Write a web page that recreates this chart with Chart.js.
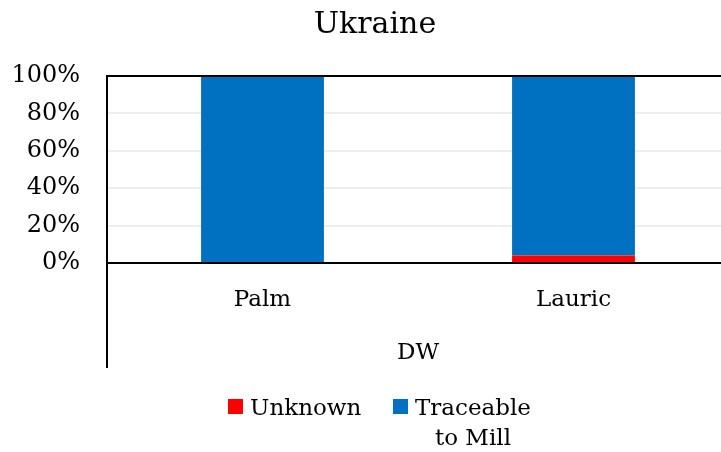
<!DOCTYPE html>
<html>
<head>
<meta charset="utf-8">
<script src="https://cdn.jsdelivr.net/npm/chart.js@4/dist/chart.umd.min.js"></script>
<style>
  html, body { margin: 0; padding: 0; background: #fff; overflow: hidden; }
  /* the plot runs a little past the right edge, as in the original */
  #wrap { width: 729px; height: 452px; }
</style>
</head>
<body>
<div id="wrap"><canvas id="chart"></canvas></div>
<script>
const titleText = 'Ukraine';
const groupLabel = 'DW';
const categories = ['Palm', 'Lauric'];
const unknownValues = [0, 4];
const traceableValues = [100, 96];
const yTicks = [0, 20, 40, 60, 80, 100];

const FONT = '"DejaVu Serif", serif';

// title, outer frame lines, group label and a wrapped legend like the original
const extras = {
    id: 'extras',
    afterDraw(chart) {
        const ctx = chart.ctx;
        const area = chart.chartArea;
        ctx.save();

        ctx.fillStyle = '#000';
        ctx.font = '30px ' + FONT;
        ctx.textAlign = 'center';
        ctx.textBaseline = 'middle';
        ctx.fillText(titleText, 375, 25);

        ctx.strokeStyle = '#000';
        ctx.lineWidth = 2;
        ctx.beginPath();
        ctx.moveTo(area.left, area.top);
        ctx.lineTo(area.right, area.top);
        ctx.moveTo(area.left, area.top);
        ctx.lineTo(area.left, 368);
        ctx.stroke();

        ctx.font = '23px ' + FONT;
        ctx.fillText(groupLabel, (area.left + area.right) / 2, 353);

        // legend
        ctx.textAlign = 'left';
        ctx.textBaseline = 'alphabetic';
        const items = [
            { x: 228, ds: chart.data.datasets[0], lines: ['Unknown'] },
            { x: 393, ds: chart.data.datasets[1], lines: ['Traceable', 'to Mill'] }
        ];
        items.forEach(it => {
            ctx.fillStyle = it.ds.backgroundColor;
            ctx.fillRect(it.x, 399, 15, 15);
            ctx.fillStyle = '#000';
            const w0 = ctx.measureText(it.lines[0]).width;
            ctx.fillText(it.lines[0], it.x + 22, 415);
            for (let i = 1; i < it.lines.length; i++) {
                const w = ctx.measureText(it.lines[i]).width;
                ctx.fillText(it.lines[i], it.x + 22 + (w0 - w) / 2, 415 + 30 * i);
            }
        });
        ctx.restore();
    }
};

new Chart(document.getElementById('chart'), {
    type: 'bar',
    data: {
        labels: categories,
        datasets: [
            { label: 'Unknown', data: unknownValues, backgroundColor: '#FF0000', borderWidth: 0 },
            { label: 'Traceable to Mill', data: traceableValues, backgroundColor: '#0070C0', borderWidth: 0 }
        ]
    },
    options: {
        responsive: true,
        maintainAspectRatio: false,
        animation: false,
        layout: { padding: { top: 76, left: 0, right: 0, bottom: 84 } },
        plugins: {
            legend: { display: false },
            tooltip: { enabled: false }
        },
        datasets: { bar: { categoryPercentage: 1, barPercentage: 0.395 } },
        scales: {
            x: {
                stacked: true,
                afterFit(scale) { scale.height = 105; },
                grid: { display: false, drawTicks: false },
                border: { display: true, color: '#000', width: 2 },
                ticks: { color: '#000', padding: 23, font: { family: FONT, size: 23 } }
            },
            y: {
                stacked: true,
                min: 0,
                max: 100,
                afterFit(scale) { scale.width = 107; },
                afterBuildTicks(scale) { scale.ticks = yTicks.map(v => ({ value: v })); },
                grid: { color: '#eeeeee', lineWidth: 2, drawTicks: false },
                border: { display: true, color: '#000', width: 2 },
                ticks: {
                    color: '#000',
                    padding: 27,
                    font: { family: FONT, size: 24 },
                    callback: v => v + '%'
                }
            }
        }
    },
    plugins: [extras]
});
</script>
</body>
</html>
